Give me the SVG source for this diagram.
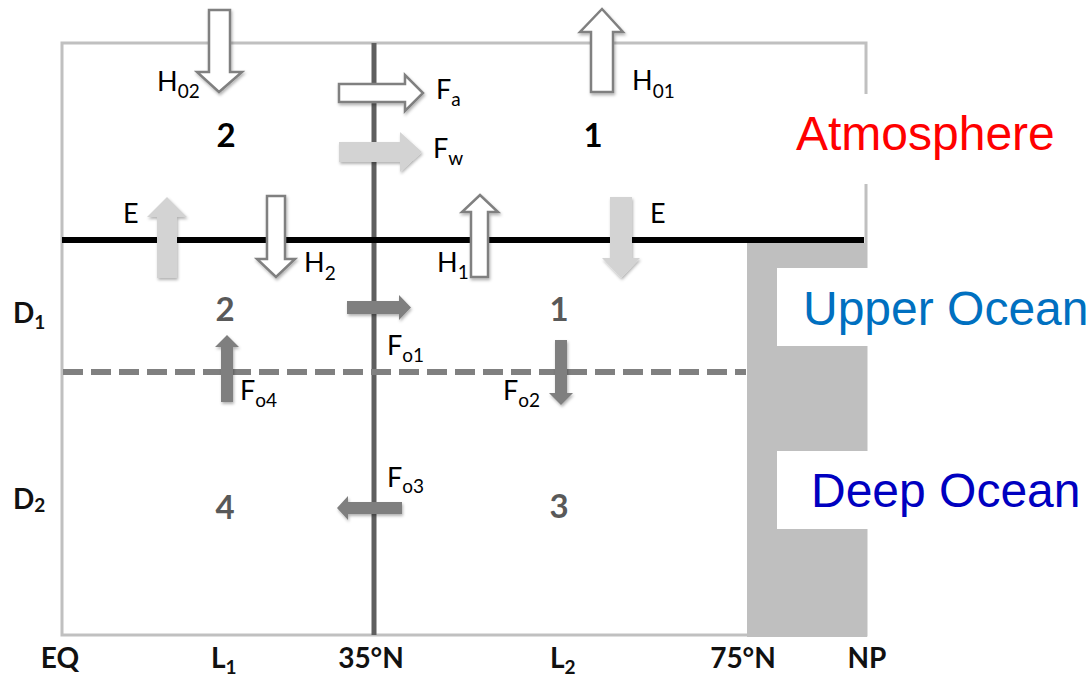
<svg xmlns="http://www.w3.org/2000/svg" width="1088" height="677" viewBox="0 0 1088 677">
<defs>
<filter id="sh" x="-30%" y="-30%" width="160%" height="160%"><feDropShadow dx="1" dy="2" stdDeviation="1.5" flood-color="#000" flood-opacity="0.3"/></filter>
<style>
.lbl{font-family:Lato,"Open Sans","Liberation Sans",sans-serif;font-size:27px;fill:#000}
.sub{font-size:19px}
.num{font-family:Lato,"Open Sans","Liberation Sans",sans-serif;font-size:33px;font-weight:bold;text-anchor:middle}
.axis{font-family:Lato,"Open Sans","Liberation Sans",sans-serif;font-size:28px;font-weight:bold;fill:#111}
.big{font-family:"Liberation Sans",Arial,sans-serif;font-size:48px}
.wa{fill:#fff;stroke:#808080;stroke-width:2.5;filter:url(#sh)}
.ga{fill:#d3d3d3;filter:url(#sh)}
.da{fill:#7f7f7f;filter:url(#sh)}
</style>
</defs>
<rect width="1088" height="677" fill="#fff"/>
<g id="frame">
<rect x="62" y="43" width="804" height="592" fill="none" stroke="#c0c0c0" stroke-width="3"/>
<rect x="747" y="243" width="120" height="394" fill="#bfbfbf"/>
<rect x="780" y="94" width="308" height="90" fill="#fff"/>
<rect x="777" y="268" width="311" height="78" fill="#fff"/>
<rect x="777" y="451" width="311" height="78" fill="#fff"/>
</g>
<g id="connectors">
<line x1="374" y1="43" x2="374" y2="635" stroke="#5f5f5f" stroke-width="5"/>
<line x1="62" y1="240" x2="864" y2="240" stroke="#000" stroke-width="6"/>
<line x1="63" y1="372" x2="746" y2="372" stroke="#808080" stroke-width="6" stroke-dasharray="20 8"/>
<polygon id="H02-arrow" class="wa" points="209,10 230,10 230,72 242,72 219,92 197,72 209,72"/>
<polygon id="H01-arrow" class="wa" points="591,92 613,92 613,32 623,32 602,9 580,32 591,32"/>
<polygon id="Fa-arrow" class="wa" points="339,84 405,84 405,75 423,93 405,111 405,102 339,102"/>
<polygon id="Fw-arrow" class="ga" points="339,142 400,142 400,132 422,152 400,172 400,162 339,162"/>
<polygon id="E2-arrow" class="ga" points="157,278 177,278 177,217 187,217 167,197 147,217 157,217"/>
<polygon id="H2-arrow" class="wa" points="267,196 285,196 285,259 295,259 276,277 257,259 267,259"/>
<polygon id="H1-arrow" class="wa" points="471,277 488,277 488,212 498,212 480,195 462,212 471,212"/>
<polygon id="E1-arrow" class="ga" points="610,197 632,197 632,258 640,258 621,278 602,258 610,258"/>
<polygon id="Fo1-arrow" class="da" points="347,301 399,301 399,295 411,307.5 399,320 399,314 347,314"/>
<polygon id="Fo3-arrow" class="da" points="402,502 348,502 348,496 337,508 348,520 348,514 402,514"/>
<polygon id="Fo4-arrow" class="da" points="221,402 233,402 233,347 239,347 227,335 215,347 221,347"/>
<polygon id="Fo2-arrow" class="da" points="555,340 567,340 567,393 573,393 561,405 549,393 555,393"/>
</g>
<g id="flux-labels">
<text class="lbl" x="157" y="91">H<tspan class="sub" dy="7">02</tspan></text>
<text class="lbl" x="632" y="90">H<tspan class="sub" dy="8">01</tspan></text>
<text class="lbl" x="436" y="99">F<tspan class="sub" dy="7">a</tspan></text>
<text class="lbl" x="433" y="158">F<tspan class="sub" dy="7">w</tspan></text>
<text class="lbl" x="123" y="223">E</text>
<text class="lbl" x="650" y="223">E</text>
<text class="lbl" x="304" y="272">H<tspan class="sub" dy="8">2</tspan></text>
<text class="lbl" x="437" y="272">H<tspan class="sub" dy="7">1</tspan></text>
<text class="lbl" x="387" y="355">F<tspan class="sub" dy="7">o1</tspan></text>
<text class="lbl" x="240" y="400">F<tspan class="sub" dy="7">o4</tspan></text>
<text class="lbl" x="503" y="400">F<tspan class="sub" dy="7">o2</tspan></text>
<text class="lbl" x="387" y="487">F<tspan class="sub" dy="6">o3</tspan></text>
</g>
<g id="box-atm2"><text class="num" x="226" y="147" fill="#000">2</text></g>
<g id="box-atm1"><text class="num" x="593" y="147" fill="#000">1</text></g>
<g id="box-up2"><text class="num" x="225" y="321" fill="#595959">2</text></g>
<g id="box-up1"><text class="num" x="559" y="321" fill="#595959">1</text></g>
<g id="box-deep4"><text class="num" x="225" y="519" fill="#595959">4</text></g>
<g id="box-deep3"><text class="num" x="559" y="518" fill="#595959">3</text></g>
<g id="depth-labels">
<text class="axis" x="13" y="323" font-size="27">D<tspan class="sub" dy="6" font-size="18">1</tspan></text>
<text class="axis" x="13" y="509" font-size="27">D<tspan class="sub" dy="3" font-size="18">2</tspan></text>
</g>
<g id="axis-labels">
<text class="axis" x="60" y="668" text-anchor="middle">EQ</text>
<text class="axis" x="211" y="668">L<tspan class="sub" dy="6" font-size="19">1</tspan></text>
<text class="axis" x="371" y="668" text-anchor="middle">35°N</text>
<text class="axis" x="550" y="668">L<tspan class="sub" dy="6" font-size="19">2</tspan></text>
<text class="axis" x="743" y="668" text-anchor="middle">75°N</text>
<text class="axis" x="867" y="668" text-anchor="middle">NP</text>
</g>
<g id="region-labels">
<text class="big" x="796" y="150" fill="#ff0000">Atmosphere</text>
<text class="big" x="803" y="325" fill="#0070c0">Upper Ocean</text>
<text class="big" x="811" y="507" fill="#0000c0">Deep Ocean</text>
</g>
</svg>
